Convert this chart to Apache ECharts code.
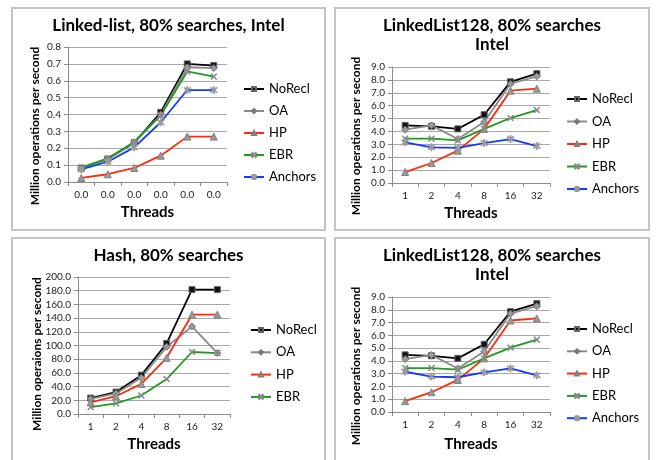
<!DOCTYPE html>
<html><head><meta charset="utf-8">
<script src="https://cdn.jsdelivr.net/npm/echarts@6/dist/echarts.min.js"></script>
<style>
html,body{margin:0;padding:0;background:#fff;width:666px;height:460px;overflow:hidden;position:relative}
.p{position:absolute}
</style></head><body>
<div id="c1" class="p" style="left:11px;top:7px;width:315px;height:224px"></div>
<div id="c2" class="p" style="left:334px;top:7px;width:316px;height:224px"></div>
<div id="c3" class="p" style="left:11px;top:237px;width:315px;height:230px"></div>
<div id="c4" class="p" style="left:334px;top:237px;width:316px;height:230px"></div>
<script>
// ---- data ----
const threads = ['1', '2', '4', '8', '16', '32'];
const xLabels1 = ['0.0', '0.0', '0.0', '0.0', '0.0', '0.0'];

// Panel 1: Linked-list, 80% searches, Intel
const ll_NoRecl = [0.083, 0.136, 0.232, 0.413, 0.700, 0.690];
const ll_OA     = [0.075, 0.135, 0.235, 0.400, 0.680, 0.675];
const ll_HP     = [0.024, 0.046, 0.083, 0.156, 0.269, 0.269];
const ll_EBR    = [0.085, 0.140, 0.237, 0.395, 0.655, 0.625];
const ll_Anch   = [0.075, 0.120, 0.205, 0.354, 0.545, 0.545];

// Panel 2 & 4: LinkedList128, 80% searches, Intel
const l128_NoRecl = [4.47, 4.40, 4.20, 5.30, 7.85, 8.48];
const l128_OA     = [4.14, 4.47, 3.41, 4.73, 7.70, 8.28];
const l128_HP     = [0.85, 1.55, 2.51, 4.20, 7.16, 7.32];
const l128_EBR    = [3.44, 3.44, 3.31, 4.20, 5.04, 5.66];
const l128_Anch   = [3.15, 2.77, 2.72, 3.10, 3.41, 2.87];

// Panel 3: Hash, 80% searches
const h_NoRecl = [23.2, 32.0, 56.7, 103.0, 181.6, 181.6];
const h_OA     = [22.0, 30.0, 53.0, 98.0, 127.8, 89.0];
const h_HP     = [17.0, 26.0, 44.0, 82.0, 145.0, 145.0];
const h_EBR    = [10.0, 15.5, 27.0, 51.0, 90.5, 89.0];

// ---- styles ----
const FONT = 'Lato';
const X_PATH = 'path://M0,1L1,0L5,4L9,0L10,1L6,5L10,9L9,10L5,6L1,10L0,9L4,5Z';
const AST_PATH = 'path://M4.3,0H5.7V3.6L8.9,1.1L9.8,2.2L6.4,5L9.8,7.8L8.9,8.9L5.7,6.4V10H4.3V6.4L1.1,8.9L0.2,7.8L3.6,5L0.2,2.2L1.1,1.1L4.3,3.6Z';
const styles = {
  NoRecl:  {line: '#000000', sym: 'rect', fill: '#111', border: '#666', size: 6},
  OA:      {line: '#8a8a8a', sym: 'diamond', fill: '#9a9a9a', border: '#777', size: 7},
  HP:      {line: '#ff2a0a', sym: 'triangle', fill: '#9a9a9a', border: '#808080', size: 7},
  EBR:     {line: '#1f9a1f', sym: X_PATH, fill: '#8a8a8a', border: '#8a8a8a', size: 6},
  Anchors: {line: '#1438ff', sym: AST_PATH, fill: '#9a9a9a', border: '#9a9a9a', size: 7}
};

function mkSeries(name, data) {
  const s = styles[name];
  return {
    name: name, type: 'line', data: data,
    symbol: s.sym, symbolSize: s.size, showSymbol: true,
    lineStyle: {color: s.line, width: 1.8},
    itemStyle: {color: s.fill, borderColor: s.border, borderWidth: 1},
    emphasis: {disabled: true}, animation: false, z: 3
  };
}

function build(el, cfg) {
  const w = el.clientWidth, h = el.clientHeight;
  const chart = echarts.init(el, null, {renderer: 'canvas', width: w, height: h});
  const titleGraphics = cfg.titleLines.map((t, i) => ({
    type: 'text', left: 'center', top: cfg.titleTop + i * 19, silent: true,
    style: {text: t, font: 'bold 17px ' + FONT, fill: '#000'}
  }));
  const names = Object.keys(cfg.data);
  chart.setOption({
    animation: false,
    textStyle: {fontFamily: FONT},
    grid: {left: cfg.grid[0], top: cfg.grid[1], width: cfg.grid[2], height: cfg.grid[3]},
    xAxis: {
      type: 'category', data: threads, boundaryGap: true,
      axisLine: {lineStyle: {color: '#8c8c8c', width: 1}},
      axisTick: {show: true, length: 4, lineStyle: {color: '#8c8c8c'}},
      axisLabel: {fontSize: 10, color: '#222', margin: 8, fontFamily: FONT,
        formatter: (v, i) => cfg.xLabels ? cfg.xLabels[i] : v},
      name: 'Threads', nameLocation: 'middle', nameGap: cfg.nameGap,
      nameTextStyle: {fontSize: 15, fontWeight: 'bold', color: '#000', fontFamily: FONT}
    },
    yAxis: {
      type: 'value', min: 0, max: cfg.ymax, interval: cfg.yint,
      axisLine: {show: true, lineStyle: {color: '#8c8c8c', width: 1}},
      axisTick: {show: true, length: 4, lineStyle: {color: '#8c8c8c'}},
      splitLine: {lineStyle: {color: '#a8a8a8', width: 1}},
      axisLabel: {fontSize: 10, color: '#222', margin: 7, fontFamily: FONT,
        formatter: v => v.toFixed(1)}
    },
    legend: {
      orient: 'vertical', left: cfg.legLeft, top: cfg.legTop, padding: 0,
      itemWidth: 20, itemHeight: 5, itemGap: cfg.legGap,
      textStyle: {fontSize: 13, lineHeight: 14, color: '#000', fontFamily: FONT},
      selectedMode: false,
      data: names
    },
    graphic: [
      {type: 'rect', silent: true, shape: {x: 1, y: 1, width: w - 2, height: h - 2},
        style: {fill: 'none', stroke: '#c4c4c4', lineWidth: 2}},
      ...titleGraphics,
      {type: 'text', silent: true, x: cfg.yName[0], y: cfg.yName[1], rotation: Math.PI / 2,
        style: {text: cfg.yNameText, font: 'bold 12px ' + FONT, fill: '#000',
          textAlign: 'center', textVerticalAlign: 'middle'}}
    ],
    series: names.map(n => mkSeries(n, cfg.data[n]))
  });
}

build(document.getElementById('c1'), {
  titleLines: ['Linked-list, 80% searches, Intel'], titleTop: 10,
  grid: [57, 40, 159, 135], ymax: 0.8, yint: 0.1, xLabels: xLabels1, nameGap: 23,
  legLeft: 232, legTop: 75, legGap: 8,
  yName: [24, 119], yNameText: 'Million operations per second',
  data: {NoRecl: ll_NoRecl, OA: ll_OA, HP: ll_HP, EBR: ll_EBR, Anchors: ll_Anch}
});
build(document.getElementById('c2'), {
  titleLines: ['LinkedList128, 80% searches', 'Intel'], titleTop: 10,
  grid: [58, 60, 158, 116], ymax: 9, yint: 1, nameGap: 23,
  legLeft: 232, legTop: 85, legGap: 8.5,
  yName: [22, 129], yNameText: 'Million operations per second',
  data: {NoRecl: l128_NoRecl, OA: l128_OA, HP: l128_HP, EBR: l128_EBR, Anchors: l128_Anch}
});
build(document.getElementById('c3'), {
  titleLines: ['Hash, 80% searches'], titleTop: 10,
  grid: [67, 40, 152, 137], ymax: 200, yint: 20, nameGap: 22,
  legLeft: 239, legTop: 86, legGap: 8.3,
  yName: [26, 117], yNameText: 'Million operaions per second',
  data: {NoRecl: h_NoRecl, OA: h_OA, HP: h_HP, EBR: h_EBR}
});
build(document.getElementById('c4'), {
  titleLines: ['LinkedList128, 80% searches', 'Intel'], titleTop: 10,
  grid: [58, 60, 158, 115], ymax: 9, yint: 1, nameGap: 25,
  legLeft: 232, legTop: 85, legGap: 8.3,
  yName: [22, 129], yNameText: 'Million operations per second',
  data: {NoRecl: l128_NoRecl, OA: l128_OA, HP: l128_HP, EBR: l128_EBR, Anchors: l128_Anch}
});
</script>
</body></html>
